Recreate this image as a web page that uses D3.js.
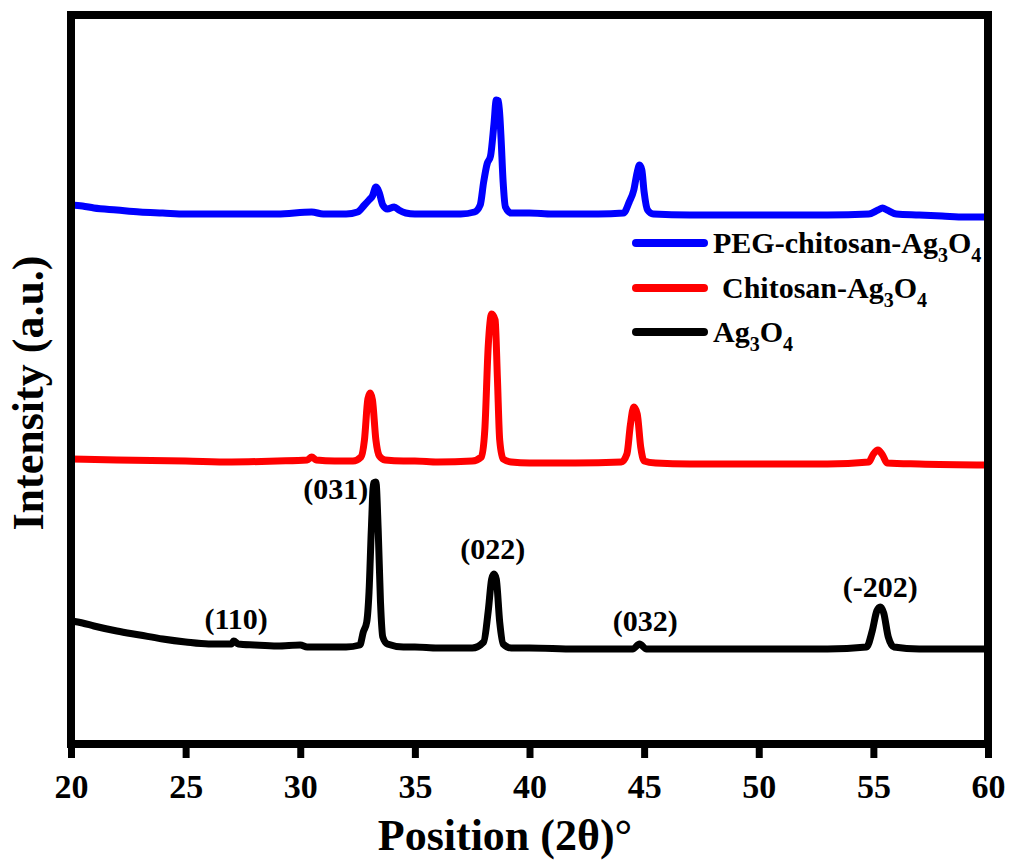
<!DOCTYPE html>
<html>
<head>
<meta charset="utf-8">
<script src="https://cdn.jsdelivr.net/npm/d3@7"></script>
<style>
  html, body { margin: 0; padding: 0; background: #fff; }
  svg { display: block; }
  text { font-family: "Liberation Serif", "Times New Roman", serif; font-weight: bold; fill: #000; }
</style>
</head>
<body>
<svg id="chart" width="1013" height="862"></svg>
<script>
// ---- Data (2θ, intensity a.u.) ----
const xTicks = [20, 25, 30, 35, 40, 45, 50, 55, 60];

const pegChitosan = [
  [20.0,5390],[20.5,5380],[21,5360],[22,5340],[23,5320],[24,5310],[25,5300],[27,5300],[29,5300],
  [30.5,5320],[31,5300],[32,5300],[32.5,5320],[32.8,5390],[33.0,5440],[33.15,5480],[33.3,5570],
  [33.45,5510],[33.6,5390],[33.8,5350],[34.1,5370],[34.3,5340],[34.6,5310],[35,5300],[36,5300],
  [37,5300],[37.6,5320],[37.85,5390],[38.0,5620],[38.15,5800],[38.3,5880],[38.45,6200],[38.55,6440],
  [38.65,6430],[38.75,6100],[38.85,5620],[38.95,5370],[39.2,5310],[40,5310],[41,5300],[43,5300],
  [44.1,5310],[44.35,5420],[44.55,5540],[44.7,5720],[44.8,5790],[44.9,5740],[45.0,5520],[45.15,5340],
  [45.4,5300],[47,5290],[50,5290],[53,5290],[54.8,5300],[55.2,5340],[55.4,5360],[55.6,5340],
  [56,5300],[57,5290],[58,5280],[59,5270],[60,5270]
];

const chitosan = [
  [20,2850],[22,2840],[25,2830],[27,2820],[29,2830],[30.3,2840],[30.5,2870],[30.7,2840],[31.5,2830],
  [32.3,2830],[32.65,2870],[32.8,3040],[32.95,3450],[33.05,3510],[33.15,3440],[33.3,3040],[33.45,2880],
  [33.7,2840],[34.5,2830],[35,2830],[36,2820],[37.5,2830],[37.9,2870],[38.05,3140],[38.2,3980],
  [38.35,4300],[38.5,4240],[38.6,3660],[38.7,3040],[38.85,2850],[39.2,2820],[40,2810],[42,2810],
  [44.0,2820],[44.25,2900],[44.4,3190],[44.55,3370],[44.7,3300],[44.85,2970],[45.0,2830],[45.5,2810],
  [47,2800],[50,2800],[53,2800],[54.8,2820],[55.0,2900],[55.2,2940],[55.4,2890],[55.6,2810],
  [57,2800],[60,2790]
];

const ag3o4 = [
  [20,1230],[20.5,1210],[21,1180],[22,1130],[23,1090],[24,1050],[25,1020],[26,1000],[27,1000],
  [27.1,1030],[27.3,1000],[28,990],[29,980],[30,990],[30.3,970],[31,970],[32,970],[32.6,990],
  [32.75,1120],[32.9,1220],[33.0,1520],[33.1,2140],[33.2,2610],[33.3,2620],[33.4,2140],[33.5,1420],
  [33.6,1070],[33.8,1000],[34.5,970],[35,970],[36,960],[37.5,960],[38.0,1020],[38.2,1330],
  [38.35,1650],[38.45,1700],[38.55,1650],[38.7,1220],[38.85,1000],[39.2,960],[40,960],[42,950],
  [44.5,950],[44.8,1000],[45.1,950],[47,950],[50,950],[53,950],[54.7,970],[54.95,1130],[55.15,1330],
  [55.3,1370],[55.45,1310],[55.65,1070],[55.9,970],[57,950],[60,950]
];

const seriesNames = ["PEG-chitosan-Ag3O4", "Chitosan-Ag3O4", "Ag3O4"];
const seriesColors = ["#0000ff", "#ff0000", "#000000"];

// Miller index annotations: [label, 2θ, intensity]
const peakLabels = [
  ["(110)", 27.2, 1150],
  ["(031)", 31.55, 2450],
  ["(022)", 38.4, 1850],
  ["(032)", 45.05, 1130],
  ["(-202)", 55.3, 1470]
];

// ---- Layout ----
const svg = d3.select("#chart");
const mLeft = 71, mRight = 988, mTop = 15, mBottom = 744;

const x = d3.scaleLinear().domain([20, 60]).range([mLeft, mRight]);
const y = d3.scaleLinear().domain([0, 7290]).range([mBottom, mTop]);

const line = d3.line()
  .x(d => x(d[0]))
  .y(d => y(d[1]))
  .curve(d3.curveMonotoneX);

const allSeries = [pegChitosan, chitosan, ag3o4];

svg.append("defs").append("clipPath").attr("id", "clip")
  .append("rect").attr("x", mLeft).attr("y", mTop).attr("width", mRight - mLeft).attr("height", mBottom - mTop);

const g = svg.append("g").attr("clip-path", "url(#clip)");
[2, 1, 0].forEach(i => {
  g.append("path")
    .datum(allSeries[i])
    .attr("fill", "none")
    .attr("stroke", seriesColors[i])
    .attr("stroke-width", 7)
    .attr("stroke-linejoin", "round")
    .attr("stroke-linecap", "round")
    .attr("d", line);
});

// Frame
svg.append("rect")
  .attr("x", mLeft).attr("y", mTop)
  .attr("width", mRight - mLeft).attr("height", mBottom - mTop)
  .attr("fill", "none").attr("stroke", "#000").attr("stroke-width", 8);

// Bottom axis
const xAxis = d3.axisBottom(x).tickValues(xTicks).tickSize(14).tickFormat(d3.format("d"));
const ax = svg.append("g").attr("transform", `translate(0,${mBottom})`).call(xAxis);
ax.select(".domain").remove();
ax.selectAll(".tick line").attr("stroke", "#000").attr("stroke-width", 7);
ax.selectAll(".tick text")
  .attr("y", 54).attr("dy", 0)
  .style("font-family", '"Liberation Serif", serif')
  .style("font-weight", "bold")
  .style("font-size", "34px")
  .attr("fill", "#000");

// Axis titles
svg.append("text")
  .attr("x", 505).attr("y", 850)
  .attr("text-anchor", "middle")
  .style("font-size", "44px")
  .text("Position (2θ)°");

svg.append("text")
  .attr("transform", "translate(43,393) rotate(-90)")
  .attr("text-anchor", "middle")
  .style("font-size", "44px")
  .text("Intensity (a.u.)");

// Peak labels
svg.selectAll(".plabel").data(peakLabels).enter().append("text")
  .attr("class", "plabel")
  .attr("x", d => x(d[1])).attr("y", d => y(d[2]))
  .attr("text-anchor", "middle")
  .style("font-size", "30px")
  .text(d => d[0]);

// Legend
const legendY = [243, 288, 332];
const legendTextX = [713, 722, 713];
seriesNames.forEach((name, i) => {
  svg.append("line")
    .attr("x1", 636).attr("x2", 704)
    .attr("y1", legendY[i]).attr("y2", legendY[i])
    .attr("stroke", seriesColors[i]).attr("stroke-width", 8)
    .attr("stroke-linecap", "round");
  const t = svg.append("text")
    .attr("x", legendTextX[i]).attr("y", legendY[i] + 10)
    .style("font-size", "30px");
  const parts = name.split(/(\d)/).filter(s => s.length);
  let sub = false;
  parts.forEach(p => {
    if (/^\d$/.test(p)) {
      t.append("tspan").attr("dy", sub ? 0 : 9).style("font-size", "20px").text(p);
      sub = true;
    } else {
      t.append("tspan").attr("dy", sub ? -9 : 0).text(p);
      sub = false;
    }
  });
});
</script>
</body>
</html>
